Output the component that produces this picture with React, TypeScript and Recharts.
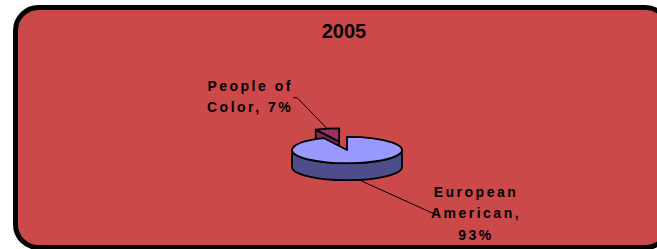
import { PieChart, Pie } from 'recharts'

// chart data
const title = '2005'
const categories = ['People of Color', 'European American']
const shares = [7, 93]
const labelLines = [
  ['People of', 'Color, 7%'],
  ['European', 'American,', '93%'],
]
const explodedSlices = ['People of Color']

const topColors = ['#993366', '#9999ff']
const sideColors = ['#7a2a55', '#4d4d8c']

const data = categories.map((name, i) => ({ name, value: shares[i], idx: i }))

// 3d look
const TILT = 0.24
const DEPTH = 17
const EXPLODE = 36
const FONT = '"Liberation Sans", Arial, sans-serif'

// leader line end relative to the slice rim, text position relative to that end
const labelLayout = [
  { dx: -30, dy: -31, stub: -4, tx: -47, ty: -7 },
  { dx: 73, dy: 33, stub: 4, tx: 44, ty: -16 },
]

const rad = (a: number) => (a * Math.PI) / 180

function explodeOffset(name: string, mid: number) {
  if (!explodedSlices.includes(name)) return [0, 0]
  return [EXPLODE * Math.cos(rad(mid)), -EXPLODE * TILT * Math.sin(rad(mid))]
}

function Slice3D(props: any) {
  const { cx, cy, outerRadius: r, startAngle, endAngle, payload } = props
  const name = payload?.name ?? props.name
  const i = payload?.idx ?? props.index ?? 0
  const a0 = Math.min(startAngle, endAngle)
  const a1 = Math.max(startAngle, endAngle)
  const [ox, oy] = explodeOffset(name, (a0 + a1) / 2)
  const x0 = cx + ox
  const y0 = cy + oy
  const ry = r * TILT
  const pt = (a: number, dz = 0) => `${x0 + r * Math.cos(rad(a))},${y0 - ry * Math.sin(rad(a)) + dz}`
  const stroke = { stroke: '#000', strokeWidth: 1.8, strokeLinejoin: 'round' as const }

  const sides: string[] = []
  // cut faces facing the viewer
  const faces = [
    { a: a0, n: a0 - 90 },
    { a: a1, n: a1 + 90 },
  ]
  faces.forEach(({ a, n }) => {
    if (Math.sin(rad(n)) < -1e-6) {
      sides.push(`M${x0},${y0} L${x0},${y0 + DEPTH} L${pt(a, DEPTH)} L${pt(a)} Z`)
    }
  })
  // outer rim, front half only
  for (let k = -1; k <= 2; k++) {
    const lo = Math.max(a0, 180 + 360 * k)
    const hi = Math.min(a1, 360 + 360 * k)
    if (hi > lo) {
      const large = hi - lo > 180 ? 1 : 0
      sides.push(
        `M${pt(lo)} A${r},${ry} 0 ${large} 0 ${pt(hi)} L${pt(hi, DEPTH)} A${r},${ry} 0 ${large} 1 ${pt(lo, DEPTH)} Z`
      )
    }
  }
  const large = a1 - a0 > 180 ? 1 : 0
  const top = `M${x0},${y0} L${pt(a0)} A${r},${ry} 0 ${large} 0 ${pt(a1)} Z`

  return (
    <g>
      {sides.map((d, j) => (
        <path key={j} d={d} fill={sideColors[i]} {...stroke} />
      ))}
      <path d={top} fill={topColors[i]} {...stroke} />
    </g>
  )
}

function SliceLabel(props: any) {
  const { cx, cy, outerRadius: r, midAngle, payload, index } = props
  const i = payload?.idx ?? index ?? 0
  const name = payload?.name ?? props.name
  const [ox, oy] = explodeOffset(name, midAngle)
  const front = Math.sin(rad(midAngle)) < 0
  const rx = cx + ox + r * Math.cos(rad(midAngle))
  const ry = cy + oy - r * TILT * Math.sin(rad(midAngle)) + (front ? DEPTH : 0)
  const l = labelLayout[i]
  const ex = rx + l.dx
  const ey = ry + l.dy
  const tx = ex + l.tx
  const ty = ey + l.ty
  return (
    <g>
      <polyline
        points={`${rx},${ry} ${ex},${ey} ${ex + l.stub},${ey}`}
        fill="none"
        stroke="#000"
        strokeWidth={1}
      />
      <text
        x={tx}
        y={ty}
        textAnchor="middle"
        fill="#000"
        fontFamily={FONT}
        fontWeight="bold"
        fontSize={14}
        style={{ letterSpacing: '2.5px' }}
      >
        {labelLines[i].map((line, j) => (
          <tspan key={j} x={tx} dy={j === 0 ? 0 : 21.5}>
            {line}
          </tspan>
        ))}
      </text>
    </g>
  )
}

export default function App() {
  return (
    <div style={{ position: 'absolute', left: 0, top: 0, width: 657, height: 249, overflow: 'hidden' }}>
      {/* rounded frame */}
      <svg width={657} height={249} style={{ position: 'absolute', left: 0, top: 0 }}>
        <rect x={15.5} y={7.5} width={653} height={240} rx={23} fill="#cb4949" stroke="#000" strokeWidth={5} />
      </svg>
      <div
        style={{
          position: 'absolute',
          left: 244,
          top: 22,
          width: 200,
          textAlign: 'center',
          fontFamily: FONT,
          fontWeight: 'bold',
          fontSize: 20,
          lineHeight: '19px',
          color: '#000',
        }}
      >
        {title}
      </div>
      <div style={{ position: 'absolute', left: 0, top: 0 }}>
        <PieChart width={657} height={249} margin={{ top: 0, right: 0, bottom: 0, left: 0 }}>
          <Pie
            data={data}
            dataKey="value"
            nameKey="name"
            cx={347}
            cy={150}
            outerRadius={55}
            startAngle={90}
            endAngle={450}
            stroke="none"
            isAnimationActive={false}
            shape={Slice3D}
            activeShape={Slice3D}
            inactiveShape={Slice3D}
            label={SliceLabel}
            labelLine={false}
          />
        </PieChart>
      </div>
    </div>
  )
}
